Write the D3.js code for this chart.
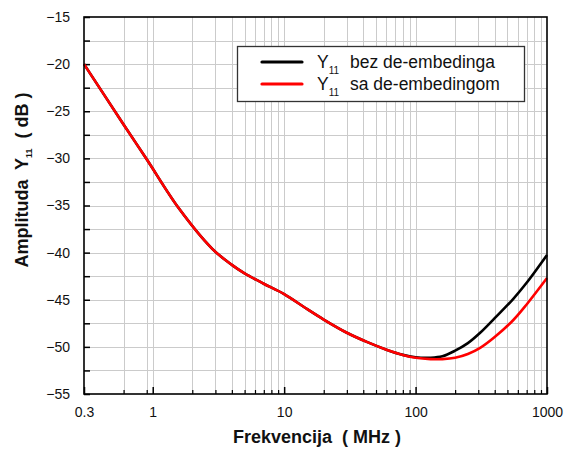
<!DOCTYPE html>
<html>
<head>
<meta charset="utf-8">
<script src="https://cdn.jsdelivr.net/npm/d3@7"></script>
<style>
  body { margin: 0; background: #fff; }
  text { font-family: "Liberation Sans", Arial, sans-serif; fill: #111; }
</style>
</head>
<body>
<div id="chart"></div>
<script>
// Frequency points (MHz)
const freq = [0.3, 0.6, 0.9, 1.58, 2.84, 4, 5, 7, 10, 15, 20, 30, 43, 60, 80, 100, 130, 160, 200, 250, 310, 400, 550, 700, 1000];

// Y11 without de-embedding (black)
const bezDe = [-20, -26.4, -30.1, -35.3, -39.6, -41.3, -42.2, -43.3, -44.4, -46.0, -47.1, -48.5, -49.5, -50.3, -50.85, -51.1, -51.15, -51.0, -50.4, -49.6, -48.5, -46.95, -44.95, -43.2, -40.25];

// Y11 with de-embedding (red)
const saDe = [-20, -26.4, -30.1, -35.3, -39.6, -41.3, -42.2, -43.3, -44.4, -46.0, -47.1, -48.5, -49.5, -50.3, -50.85, -51.15, -51.3, -51.3, -51.15, -50.75, -50.1, -48.95, -47.2, -45.5, -42.7];

// Axis ticks
const xTickLabels = [0.3, 1, 10, 100, 1000];
const xMinor = [0.6, 0.9, 2, 3, 4, 5, 6, 7, 8, 9, 20, 30, 40, 50, 60, 70, 80, 90, 200, 300, 400, 500, 600, 700, 800, 900];
const yTickLabels = [-15, -20, -25, -30, -35, -40, -45, -50, -55];
const yMinor = [-17.5, -22.5, -27.5, -32.5, -37.5, -42.5, -47.5, -52.5];

const width = 567, height = 450;
const margins = {top: 17, right: 20, bottom: 56, left: 84};

const svg = d3.select("#chart")
  .append("svg")
    .attr("width", width)
    .attr("height", height);

const xScale = d3.scaleLog()
  .domain([0.3, 1000])
  .range([margins.left, width - margins.right]);

const yScale = d3.scaleLinear()
  .domain([-55, -15])
  .range([height - margins.bottom, margins.top]);

const x0 = margins.left, x1 = width - margins.right;
const y0 = height - margins.bottom, y1 = margins.top;

// grid
const grid = svg.append("g").attr("stroke", "#cbcbcb").attr("stroke-width", 1);
grid.selectAll("line.gx")
  .data(xMinor.concat([1, 10, 100]))
  .join("line")
    .attr("x1", d => Math.round(xScale(d)) + 0.5)
    .attr("x2", d => Math.round(xScale(d)) + 0.5)
    .attr("y1", y1).attr("y2", y0);
grid.selectAll("line.gy")
  .data(yMinor.concat(yTickLabels.slice(1, -1)))
  .join("line")
    .attr("y1", d => Math.round(yScale(d)) + 0.5)
    .attr("y2", d => Math.round(yScale(d)) + 0.5)
    .attr("x1", x0).attr("x2", x1);

// axes (ticks pointing inward)
const xAxis = d3.axisBottom(xScale)
  .tickValues(xTickLabels)
  .tickSize(-7)
  .tickPadding(13)
  .tickFormat(d => d);
const gx = svg.append("g")
  .attr("transform", `translate(0,${y0})`)
  .call(xAxis);
gx.select(".domain").remove();
gx.selectAll("line").attr("stroke", "#000").attr("stroke-width", 1.5);
gx.selectAll("text").attr("font-size", 14).attr("fill", "#111");

const gxm = svg.append("g")
  .attr("transform", `translate(0,${y0})`)
  .call(d3.axisBottom(xScale).tickValues(xMinor).tickSize(-4).tickFormat(""));
gxm.select(".domain").remove();
gxm.selectAll("line").attr("stroke", "#000").attr("stroke-width", 1.2);

const yAxis = d3.axisLeft(yScale)
  .tickValues(yTickLabels)
  .tickSize(-6)
  .tickPadding(14);
const gy = svg.append("g")
  .attr("transform", `translate(${x0},0)`)
  .call(yAxis);
gy.select(".domain").remove();
gy.selectAll("line").attr("stroke", "#000").attr("stroke-width", 1.5);
gy.selectAll("text").attr("font-size", 14).attr("fill", "#111");

const gym = svg.append("g")
  .attr("transform", `translate(${x0},0)`)
  .call(d3.axisLeft(yScale).tickValues(yMinor).tickSize(-6).tickFormat(""));
gym.select(".domain").remove();
gym.selectAll("line").attr("stroke", "#000").attr("stroke-width", 1.5);

// lines
const line = d3.line()
  .x(d => xScale(d[0]))
  .y(d => yScale(d[1]))
  .curve(d3.curveCatmullRom.alpha(0.5));

svg.append("path")
  .datum(freq.map((f, i) => [f, bezDe[i]]))
  .attr("fill", "none")
  .attr("stroke", "#000")
  .attr("stroke-width", 2.6)
  .attr("d", line);

svg.append("path")
  .datum(freq.map((f, i) => [f, saDe[i]]))
  .attr("fill", "none")
  .attr("stroke", "#ff0000")
  .attr("stroke-width", 2.6)
  .attr("d", line);

// frame
svg.append("rect")
  .attr("x", x0).attr("y", y1)
  .attr("width", x1 - x0).attr("height", y0 - y1)
  .attr("fill", "none")
  .attr("stroke", "#000")
  .attr("stroke-width", 1.6);

// legend
const legend = svg.append("g");
legend.append("rect")
  .attr("x", 237.5).attr("y", 46.5)
  .attr("width", 287).attr("height", 55)
  .attr("fill", "#fff")
  .attr("stroke", "#333")
  .attr("stroke-width", 1.3);

const legendItems = [
  {label: "bez de-embedinga", color: "#000", y: 62},
  {label: "sa de-embedingom", color: "#ff0000", y: 84}
];
legendItems.forEach(it => {
  legend.append("line")
    .attr("x1", 262).attr("x2", 302)
    .attr("y1", it.y).attr("y2", it.y)
    .attr("stroke", it.color)
    .attr("stroke-width", 3.2)
    .attr("stroke-linecap", "round");
  const t = legend.append("text")
    .attr("x", 317).attr("y", it.y + 6)
    .attr("font-size", 17.5);
  t.append("tspan").text("Y");
  t.append("tspan").attr("font-size", 10).attr("dy", 6).text("11");
  legend.append("text")
    .attr("x", 350).attr("y", it.y + 6)
    .attr("font-size", 17.5)
    .text(it.label);
});

// axis titles
svg.append("text")
  .attr("x", 317)
  .attr("y", 443)
  .attr("text-anchor", "middle")
  .attr("font-size", 18)
  .attr("font-weight", "bold")
  .attr("xml:space", "preserve")
  .text("Frekvencija  ( MHz )");

const yt = svg.append("text")
  .attr("transform", `translate(28,180) rotate(-90)`)
  .attr("text-anchor", "middle")
  .attr("font-size", 18)
  .attr("font-weight", "bold")
  .attr("xml:space", "preserve");
yt.append("tspan").text("Amplituda  Y");
yt.append("tspan").attr("font-size", 9).attr("dy", 4).text("11");
yt.append("tspan").attr("dy", -4).text("  ( dB )");
</script>
</body>
</html>
